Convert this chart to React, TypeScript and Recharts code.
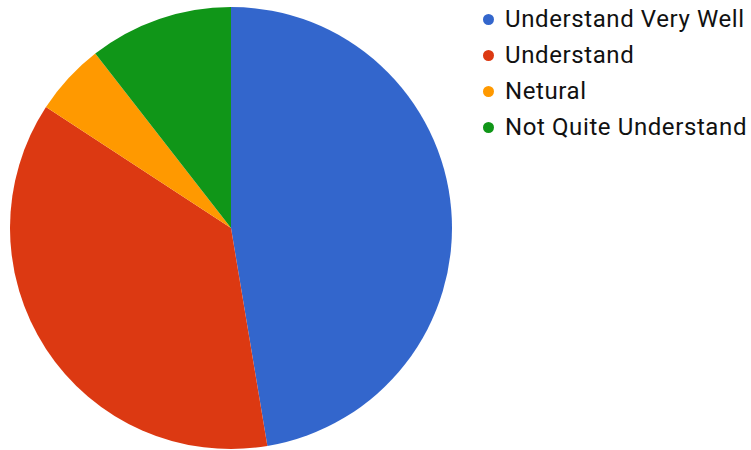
import { PieChart, Pie, Cell, Legend } from 'recharts';

const categories = ['Understand Very Well', 'Understand', 'Netural', 'Not Quite Understand'];
const counts = [9, 7, 1, 2];
const colors = ['#3366cc', '#dc3912', '#ff9900', '#109618'];

const data = categories.map((name, i) => ({ name, value: counts[i] }));

function LegendList() {
  return (
    <div style={{ fontFamily: 'Roboto, Arial, sans-serif', fontSize: 24, letterSpacing: 0.6, color: '#111' }}>
      {categories.map((name, i) => (
        <div key={name} style={{ display: 'flex', alignItems: 'center', height: 36 }}>
          <span
            style={{
              display: 'inline-block',
              width: 11,
              height: 11,
              borderRadius: 6,
              background: colors[i],
              marginRight: 11,
            }}
          />
          <span>{name}</span>
        </div>
      ))}
    </div>
  );
}

export default function App() {
  return (
    <div style={{ position: 'absolute', left: 0, top: 0, background: '#fff' }}>
      <PieChart width={751} height={450} margin={{ top: 0, right: 0, bottom: 0, left: 0 }}>
        <Pie
          data={data}
          dataKey="value"
          nameKey="name"
          cx={231}
          cy={228}
          outerRadius={221}
          startAngle={90}
          endAngle={-270}
          stroke="none"
          isAnimationActive={false}
        >
          {data.map((d, i) => (
            <Cell key={d.name} fill={colors[i]} />
          ))}
        </Pie>
        <Legend
          content={() => <LegendList />}
          wrapperStyle={{ position: 'absolute', left: 483, top: 1, width: 268 }}
        />
      </PieChart>
    </div>
  );
}
